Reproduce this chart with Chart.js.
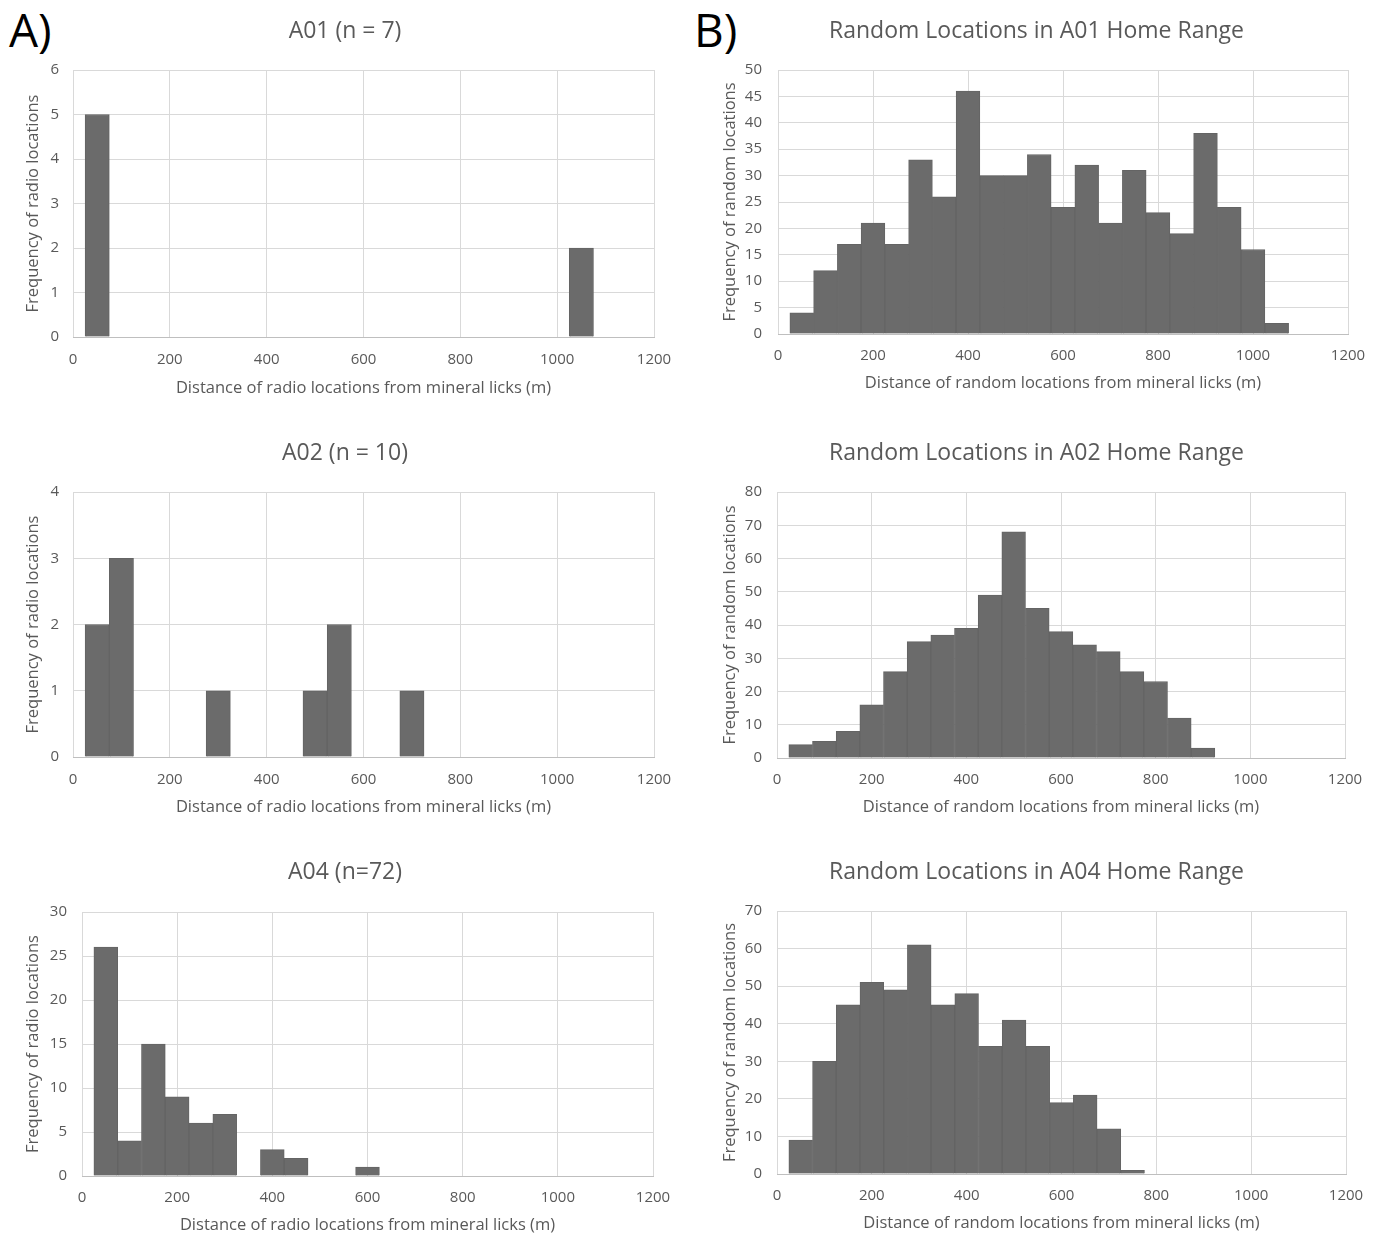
<!DOCTYPE html>
<html><head><meta charset="utf-8">
<script src="https://cdn.jsdelivr.net/npm/chart.js@4"></script>
<style>
body{margin:0;background:#fff;width:1383px;height:1238px;position:relative;overflow:hidden;font-family:'Open Sans',sans-serif}
canvas{position:absolute}
.lab{position:absolute;font-size:46px;line-height:1;color:#000;font-family:'Open Sans',sans-serif}
</style></head><body>
<div class="lab" style="left:9px;top:6px">A)</div>
<div class="lab" style="left:694px;top:6px">B)</div>
<canvas id="a01"></canvas><canvas id="b01"></canvas>
<canvas id="a02"></canvas><canvas id="b02"></canvas>
<canvas id="a04"></canvas><canvas id="b04"></canvas>
<script>
// ---- data ----
const binCenters = [50,100,150,200,250,300,350,400,450,500,550,600,650,700,750,800,850,900,950,1000,1050];
const countsA01 = [5,0,0,0,0,0,0,0,0,0,0,0,0,0,0,0,0,0,0,0,2];
const countsA02 = [2,3,0,0,0,1,0,0,0,1,2,0,0,1,0,0,0,0,0,0,0];
const countsA04 = [26,4,15,9,6,7,0,3,2,0,0,1,0,0,0,0,0,0,0,0,0];
const countsB01 = [4,12,17,21,17,33,26,46,30,30,34,24,32,21,31,23,19,38,24,16,2];
const countsB02 = [4,5,8,16,26,35,37,39,49,68,45,38,34,32,26,23,12,3,0,0,0];
const countsB04 = [9,30,45,51,49,61,45,48,34,41,34,19,21,12,1,0,0,0,0,0,0];
const xTickLabels = [0,200,400,600,800,1000,1200];
const titles = {
  a01:'A01 (n = 7)', a02:'A02 (n = 10)', a04:'A04 (n=72)',
  b01:'Random Locations in A01 Home Range', b02:'Random Locations in A02 Home Range', b04:'Random Locations in A04 Home Range'
};
const xTitleRadio = 'Distance of radio locations from mineral licks (m)';
const xTitleRandom = 'Distance of random locations from mineral licks (m)';
const yTitleRadio = 'Frequency of radio locations';
const yTitleRandom = 'Frequency of random locations';
const yMax = {a01:6, a02:4, a04:30, b01:50, b02:80, b04:70};
const yStep = {a01:1, a02:1, a04:5, b01:5, b02:10, b04:10};

// ---- layout (page px) ----
const geo = {
  a01:{left:0,top:0,w:690,h:420,pL:73,pR:654,pT:70,pB:337,titleY:31,xTickY:360,xTitleY:388,yTitleX:33,yTickR:59},
  a02:{left:0,top:420,w:690,h:420,pL:73,pR:654,pT:492,pB:757,titleY:453,xTickY:780,xTitleY:807,yTitleX:33,yTickR:59},
  a04:{left:0,top:840,w:690,h:398,pL:82,pR:653,pT:912,pB:1176,titleY:872,xTickY:1198,xTitleY:1225,yTitleX:33,yTickR:67},
  b01:{left:690,top:0,w:693,h:420,pL:778,pR:1348,pT:70,pB:334,titleY:31,xTickY:356,xTitleY:383,yTitleX:730,yTickR:762},
  b02:{left:690,top:420,w:693,h:420,pL:777,pR:1345,pT:492,pB:758,titleY:453,xTickY:780,xTitleY:807,yTitleX:730,yTickR:762},
  b04:{left:690,top:840,w:693,h:398,pL:777,pR:1346,pT:911,pB:1174,titleY:872,xTickY:1196,xTitleY:1223,yTitleX:730,yTickR:762}
};

Chart.defaults.font.family = "'Open Sans', sans-serif";
const TXT = '#595959';
const TS = 23, AS = 16.5, KS = 15;
const TL = TS*1.2, AL = AS*1.2, KL = KS*1.2;

function build(id, counts, xTitle, yTitle){
  const g = geo[id];
  const cv = document.getElementById(id);
  cv.width = g.w; cv.height = g.h;
  cv.style.left = g.left+'px'; cv.style.top = g.top+'px';
  cv.style.width = g.w+'px'; cv.style.height = g.h+'px';
  const padTop = g.titleY - g.top - TL/2;
  const padBot = (g.pT - g.top) - padTop - TL;
  const data = binCenters.map((x,i)=>({x:x, y:counts[i]}));
  new Chart(cv, {
    type:'bar',
    data:{datasets:[{
      data:data,
      backgroundColor:c=>(c.raw && c.raw.y>0)?'#6b6b6b':'rgba(0,0,0,0)',
      borderColor:'#646464',
      borderWidth:c=>(c.raw && c.raw.y>0)?1:0,
      barPercentage:1, categoryPercentage:1
    }]},
    options:{
      responsive:false, animation:false, devicePixelRatio:1,
      layout:{padding:0},
      plugins:{
        legend:{display:false}, tooltip:{enabled:false},
        title:{display:true,text:titles[id],color:TXT,font:{size:TS,weight:'normal'},padding:{top:padTop,bottom:padBot}}
      },
      scales:{
        x:{type:'linear',min:0,max:1200,offset:false,
          afterBuildTicks:s=>{s.ticks = xTickLabels.map(v=>({value:v}));},
          ticks:{color:TXT,font:{size:KS},padding:g.xTickY-g.pB-KL/2,maxRotation:0,autoSkip:false,callback:v=>String(v)},
          grid:{color:'#d9d9d9',drawTicks:false,offset:false,lineWidth:1},
          border:{display:true,color:'#bfbfbf'},
          title:{display:true,text:xTitle,color:TXT,font:{size:AS},padding:{top:0,bottom:g.top+g.h-g.xTitleY-AL/2}},
          afterFit:s=>{s.height = g.top+g.h-g.pB;}
        },
        y:{min:0,max:yMax[id],
          ticks:{stepSize:yStep[id],color:TXT,font:{size:KS},padding:g.pL-g.yTickR,callback:v=>String(v)},
          grid:{color:'#d9d9d9',drawTicks:false},
          border:{display:false},
          title:{display:true,text:yTitle,color:TXT,font:{size:AS},padding:{top:g.yTitleX-g.left-AL/2,bottom:0}},
          afterFit:s=>{s.width = g.pL-g.left;}
        },
        yr:{position:'right',display:true,
          ticks:{display:false},grid:{display:false},border:{display:false},
          afterFit:s=>{s.width = g.left+g.w-g.pR;}
        }
      }
    }
  });
}
build('a01', countsA01, xTitleRadio, yTitleRadio);
build('a02', countsA02, xTitleRadio, yTitleRadio);
build('a04', countsA04, xTitleRadio, yTitleRadio);
build('b01', countsB01, xTitleRandom, yTitleRandom);
build('b02', countsB02, xTitleRandom, yTitleRandom);
build('b04', countsB04, xTitleRandom, yTitleRandom);
</script>
</body></html>
